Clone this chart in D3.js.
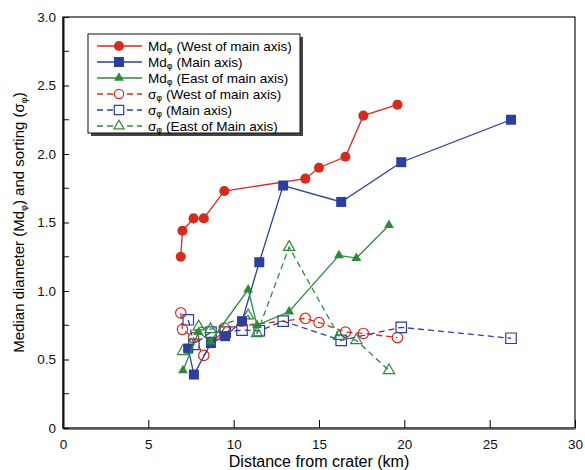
<!DOCTYPE html>
<meta charset="utf-8">
<style>
    body { margin: 0; background: #fff; }
    svg { display: block; font-family: "Liberation Sans", Arial, sans-serif; }
    .tick text { font-size: 13.5px; fill: #111; }
    .sub { font-family: "DejaVu Sans", sans-serif; }
</style>
<body>
<script src="https://d3js.org/d3.v7.min.js"></script>
<script>
// distance from crater (km) and values per sampling line
var westDist  = [6.9, 7.0, 7.65, 8.25, 9.45, 14.2, 15.0, 16.55, 17.6, 19.6];
var westMd    = [1.25, 1.44, 1.53, 1.53, 1.73, 1.82, 1.90, 1.98, 2.28, 2.36];
var westSigma = [0.84, 0.72, 0.66, 0.53, 0.73, 0.80, 0.77, 0.70, 0.69, 0.66];

var mainDist  = [7.34, 7.67, 8.67, 9.5, 10.49, 11.5, 12.9, 16.3, 19.82, 26.25];
var mainMd    = [0.58, 0.39, 0.62, 0.67, 0.78, 1.21, 1.77, 1.65, 1.94, 2.25];
var mainSigma = [0.79, 0.61, 0.70, 0.70, 0.715, 0.71, 0.78, 0.64, 0.735, 0.655];

var eastDist  = [7.03, 7.95, 8.64, 10.85, 11.37, 13.25, 16.17, 17.19, 19.1];
var eastMd    = [0.42, 0.70, 0.63, 1.01, 0.75, 0.85, 1.26, 1.24, 1.48];
var eastSigma = [0.56, 0.74, 0.72, 0.82, 0.69, 1.32, 0.67, 0.64, 0.42];

var xTicks = [0, 5, 10, 15, 20, 25, 30];
var yTicks = [0, 0.5, 1.0, 1.5, 2.0, 2.5, 3.0];

var red = "#d52b1e", blue = "#2c3f9e", green = "#2f8a3b";

var width = 585, height = 470;
var plotL = 63, plotR = 575, plotT = 17, plotB = 428;

var svg = d3.select("body").append("svg")
    .attr("width", width)
    .attr("height", height);

var x = d3.scaleLinear().domain([0, 30]).range([plotL, plotR]);
var y = d3.scaleLinear().domain([0, 3]).range([plotB, plotT]);

// frame
svg.append("rect")
    .attr("x", plotL).attr("y", plotT)
    .attr("width", plotR - plotL).attr("height", plotB - plotT)
    .attr("fill", "none").attr("stroke", "#111").attr("stroke-width", 1.2);

// axes, ticks pointing inward
var xAxis = svg.append("g")
    .attr("transform", "translate(0," + plotB + ")")
    .call(d3.axisBottom(x).tickValues(xTicks).tickSizeInner(-8).tickSizeOuter(0).tickPadding(11)
        .tickFormat(d3.format("d")));
xAxis.select(".domain").attr("stroke", "#555").attr("stroke-width", 2.5);

var yAxis = svg.append("g")
    .attr("transform", "translate(" + plotL + ",0)")
    .call(d3.axisLeft(y).tickValues(yTicks).tickSizeInner(-6).tickSizeOuter(0).tickPadding(7)
        .tickFormat(function(d) { return d === 0 ? "0" : d3.format(".1f")(d); }));
yAxis.select(".domain").attr("stroke", "#111").attr("stroke-width", 2);

// minor y ticks
svg.append("g").selectAll("line")
    .data(d3.range(0.25, 3, 0.5))
    .join("line")
    .attr("x1", plotL).attr("x2", plotL + 6)
    .attr("y1", function(d) { return y(d); })
    .attr("y2", function(d) { return y(d); })
    .attr("stroke", "#111");

// axis titles
svg.append("text")
    .attr("x", (plotL + plotR) / 2).attr("y", 467)
    .attr("text-anchor", "middle")
    .style("font-size", "16px")
    .text("Distance from crater (km)");

var yt = svg.append("text")
    .attr("transform", "translate(24," + ((plotT + plotB) / 2) + ") rotate(-90)")
    .attr("text-anchor", "middle")
    .style("font-size", "15px");
yt.append("tspan").text("Median diameter (Md");
yt.append("tspan").attr("class", "sub").text("\u03c6").style("font-size", "9px").attr("dy", 3);
yt.append("tspan").text(") and sorting (\u03c3").attr("dy", -3);
yt.append("tspan").attr("class", "sub").text("\u03c6").style("font-size", "9px").attr("dy", 3);
yt.append("tspan").text(")").attr("dy", -3);

var series = [
    { name: "Md", label: " (West of main axis)", xs: westDist, ys: westMd, color: red, sym: d3.symbolCircle, size: 80, fill: true, dash: null },
    { name: "Md", label: " (Main axis)", xs: mainDist, ys: mainMd, color: blue, sym: d3.symbolSquare, size: 100, fill: true, dash: null },
    { name: "Md", label: " (East of main axis)", xs: eastDist, ys: eastMd, color: green, sym: d3.symbolTriangle, size: 42, fill: true, dash: null },
    { name: "\u03c3", label: " (West of main axis)", xs: westDist, ys: westSigma, color: red, sym: d3.symbolCircle, size: 85, fill: false, dash: "6,4" },
    { name: "\u03c3", label: " (Main axis)", xs: mainDist, ys: mainSigma, color: blue, sym: d3.symbolSquare, size: 110, fill: false, dash: "6,4" },
    { name: "\u03c3", label: " (East of Main axis)", xs: eastDist, ys: eastSigma, color: green, sym: d3.symbolTriangle, size: 55, fill: false, dash: "6,4" }
];

var line = d3.line()
    .x(function(d) { return x(d[0]); })
    .y(function(d) { return y(d[1]); });

function drawSeries(s) {
    var pts = s.xs.map(function(v, i) { return [v, s.ys[i]]; });
    var g = svg.append("g");
    g.append("path")
        .attr("d", line(pts))
        .attr("fill", "none")
        .attr("stroke", s.color)
        .attr("stroke-width", 1.3)
        .attr("stroke-dasharray", s.dash);
    g.selectAll("path.pt")
        .data(pts)
        .join("path")
        .attr("class", "pt")
        .attr("transform", function(d) { return "translate(" + x(d[0]) + "," + y(d[1]) + ")"; })
        .attr("d", d3.symbol().type(s.sym).size(s.size))
        .attr("fill", s.fill ? s.color : "#fff")
        .attr("fill-opacity", s.fill ? 1 : 0)
        .attr("stroke", s.color)
        .attr("stroke-width", s.fill ? 0 : 1.2);
}

// sorting first, medians on top
series.slice(3).forEach(drawSeries);
series.slice(0, 3).forEach(drawSeries);

// legend
var lg = svg.append("g");
lg.append("rect")
    .attr("x", 91).attr("y", 37).attr("width", 212).attr("height", 99)
    .attr("fill", "#444");
lg.append("rect")
    .attr("x", 88).attr("y", 34).attr("width", 212).attr("height", 99)
    .attr("fill", "#fff").attr("stroke", "#111").attr("stroke-width", 1);

var rowY = [46, 62, 78, 94, 110, 126];
series.forEach(function(s, i) {
    var ry = rowY[i];
    lg.append("line")
        .attr("x1", 97).attr("x2", 142)
        .attr("y1", ry).attr("y2", ry)
        .attr("stroke", s.color).attr("stroke-width", 1.3)
        .attr("stroke-dasharray", s.dash);
    lg.append("path")
        .attr("transform", "translate(119," + ry + ")")
        .attr("d", d3.symbol().type(s.sym).size(s.fill ? s.size : s.size * 0.8))
        .attr("fill", s.fill ? s.color : "#fff")
        .attr("stroke", s.color)
        .attr("stroke-width", s.fill ? 0 : 1.2);
    var t = lg.append("text")
        .attr("x", 148).attr("y", ry + 5)
        .style("font-size", "13.5px");
    t.append("tspan").text(s.name);
    t.append("tspan").attr("class", "sub").text("\u03c6").style("font-size", "9px").attr("dy", 1.5);
    t.append("tspan").text(s.label).attr("dy", -1.5);
});
</script>
</body>
